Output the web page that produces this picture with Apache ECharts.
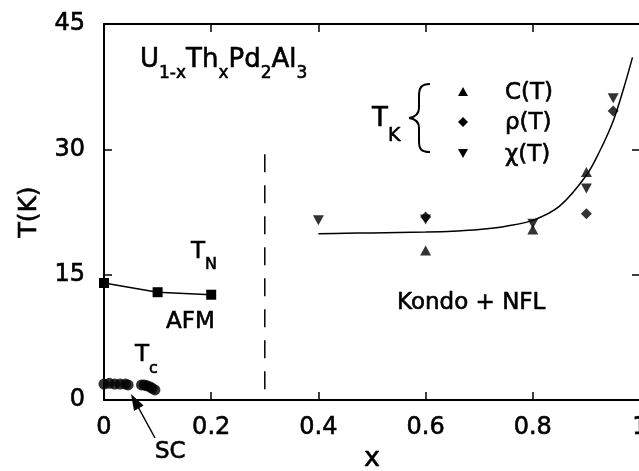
<!DOCTYPE html>
<html>
<head>
<meta charset="utf-8">
<script src="https://cdn.jsdelivr.net/npm/echarts@6/dist/echarts.min.js"></script>
<style>
  html, body { margin: 0; padding: 0; background: #fff; }
  #chart { width: 639px; height: 471px; }
</style>
</head>
<body>
<div id="chart"></div>
<script>
// Axis ticks
const xTickLabels = ['0', '0.2', '0.4', '0.6', '0.8', '1'];
const yTickLabels = ['0', '15', '30', '45'];

// Néel temperature T_N (AFM)
const tnX = [0, 0.1, 0.2];
const tnT = [14.0, 12.9, 12.6];

// Superconducting T_c
const tcX = [0, 0.01, 0.02, 0.03, 0.04, 0.045, 0.07, 0.075, 0.08, 0.085, 0.09, 0.095];
const tcT = [1.9, 2.0, 1.9, 1.9, 1.9, 1.8, 1.8, 1.8, 1.7, 1.6, 1.4, 1.2];

// Kondo temperature T_K from specific heat, resistivity and susceptibility
const cX = [0.6, 0.8, 0.9];
const cT = [17.9, 20.4, 27.3];
const rhoX = [0.6, 0.9, 0.95];
const rhoT = [21.9, 22.3, 34.6];
const chiX = [0.4, 0.6, 0.8, 0.9, 0.95];
const chiT = [21.5, 21.6, 21.1, 25.3, 36.1];

// Guide curve through T_K
const fitX = [0.40, 0.45, 0.50, 0.55, 0.60, 0.65, 0.70, 0.75, 0.80, 0.85, 0.90, 0.925, 0.95, 0.97, 0.986];
const fitT = [19.9, 19.95, 20.0, 20.05, 20.1, 20.2, 20.4, 20.8, 21.5, 23.2, 26.9, 29.8, 33.4, 37.4, 41.0];

// AFM / Kondo boundary (drawn top to bottom)
const boundaryX = [0.3, 0.3];
const boundaryT = [29.4, 0];

const FONT = 'DejaVu Sans';
const INK = 0.6; // stroke added to glyphs for a heavier print look
const pairs = (xs, ys) => xs.map((x, i) => [x, ys[i]]);

const axisCommon = {
  type: 'value',
  axisLine: { show: true, onZero: false, lineStyle: { color: '#000', width: 2 } },
  axisTick: { show: true, inside: true, length: 8, lineStyle: { color: '#000', width: 1.5 } },
  splitLine: { show: false }
};

const chart = echarts.init(document.getElementById('chart'), null, { renderer: 'canvas' });

// text with subscripts: main tokens centred, subscripts pushed to the line bottom
function subText(parts, mainSize, subSize, lineH) {
  const text = parts.map(p => (p[1] ? '{s|' : '{m|') + p[0] + '}').join('');
  return {
    text: text,
    rich: {
      m: { fontFamily: FONT, fontSize: mainSize, lineHeight: lineH, fill: '#000', stroke: '#000', lineWidth: INK, verticalAlign: 'middle' },
      s: { fontFamily: FONT, fontSize: subSize, lineHeight: subSize, fill: '#000', stroke: '#000', lineWidth: INK, verticalAlign: 'bottom' }
    },
    align: 'left',
    verticalAlign: 'middle'
  };
}

function textEl(x, y, style) {
  return { type: 'text', x: x, y: y, style: style, z: 100 };
}

function plainText(x, y, str, size) {
  return textEl(x, y, {
    text: str, fontFamily: FONT, fontSize: size, fill: '#000',
    stroke: '#000', lineWidth: INK, align: 'left', verticalAlign: 'middle'
  });
}

function tri(cx, cy, r, down) {
  const s = down ? -1 : 1;
  return {
    type: 'polygon', z: 100,
    shape: { points: [[cx, cy - s * r], [cx - r, cy + s * r * 0.8], [cx + r, cy + s * r * 0.8]] },
    style: { fill: '#000' }
  };
}

const strokeStyle = { stroke: '#000', fill: 'none', lineWidth: 2 };
function bez(p0, c1, c2, p1) {
  return {
    type: 'bezierCurve', z: 100,
    shape: { x1: p0[0], y1: p0[1], cpx1: c1[0], cpy1: c1[1], cpx2: c2[0], cpy2: c2[1], x2: p1[0], y2: p1[1] },
    style: strokeStyle
  };
}
function seg(p0, p1) {
  return { type: 'line', z: 100, shape: { x1: p0[0], y1: p0[1], x2: p1[0], y2: p1[1] }, style: strokeStyle };
}

const labelStyle = {
  fontFamily: FONT, fontSize: 24, color: '#000',
  textBorderColor: '#000', textBorderWidth: INK,
  showMinLabel: true, showMaxLabel: true
};

const option = {
  backgroundColor: '#fff',
  animation: false,
  grid: { left: 104, top: 24, width: 536, height: 376, containLabel: false, outerBoundsMode: 'none' },
  xAxis: [
    Object.assign({}, axisCommon, {
      min: 0, max: 1, interval: 0.2, position: 'bottom',
      name: 'x', nameLocation: 'middle', nameGap: 43,
      nameTextStyle: { fontFamily: FONT, fontSize: 27, color: '#000', textBorderColor: '#000', textBorderWidth: INK },
      axisLabel: Object.assign({}, labelStyle, {
        margin: 16,
        formatter: v => xTickLabels[Math.round(v / 0.2)]
      })
    }),
    Object.assign({}, axisCommon, {
      min: 0, max: 1, interval: 0.2, position: 'top',
      axisLabel: { show: false }
    })
  ],
  yAxis: [
    Object.assign({}, axisCommon, {
      min: 0, max: 45, interval: 15, position: 'left',
      name: 'T(K)', nameLocation: 'middle', nameGap: 62, nameRotate: 90,
      nameTextStyle: { fontFamily: FONT, fontSize: 25, color: '#000', textBorderColor: '#000', textBorderWidth: INK },
      axisLabel: Object.assign({}, labelStyle, {
        margin: 19,
        formatter: v => yTickLabels[Math.round(v / 15)]
      })
    }),
    Object.assign({}, axisCommon, {
      min: 0, max: 45, interval: 15, position: 'right',
      axisLabel: { show: false }
    })
  ],
  series: [
    {
      name: 'boundary', type: 'line', data: pairs(boundaryX, boundaryT),
      symbol: 'none', z: 2,
      lineStyle: { color: '#000', width: 1.5, type: [18, 13] }
    },
    {
      name: 'T_N', type: 'line', data: pairs(tnX, tnT),
      symbol: 'rect', symbolSize: 10, z: 3,
      itemStyle: { color: '#000' },
      lineStyle: { color: '#000', width: 1.5 }
    },
    {
      name: 'T_c', type: 'scatter', data: pairs(tcX, tcT),
      symbol: 'circle', symbolSize: 11, z: 3,
      itemStyle: { color: '#000' }
    },
    {
      name: 'fit', type: 'line', data: pairs(fitX, fitT),
      symbol: 'none', smooth: 0.35, z: 2,
      lineStyle: { color: '#000', width: 1.5 }
    },
    {
      name: 'C(T)', type: 'scatter', data: pairs(cX, cT),
      symbol: 'triangle', symbolSize: [11, 10], z: 4,
      itemStyle: { color: '#000' }
    },
    {
      name: 'rho(T)', type: 'scatter', data: pairs(rhoX, rhoT),
      symbol: 'diamond', symbolSize: 11, z: 4,
      itemStyle: { color: '#000' }
    },
    {
      name: 'chi(T)', type: 'scatter', data: pairs(chiX, chiT),
      symbol: 'triangle', symbolRotate: 180, symbolSize: [11, 10], z: 4,
      itemStyle: { color: '#000' }
    }
  ],
  graphic: [
    // compound formula
    textEl(140, 60, subText([['U'], ['1-x', 1], ['Th'], ['x', 1], ['Pd'], ['2', 1], ['Al'], ['3', 1]], 26, 17, 44)),
    // phase labels
    textEl(191, 252, subText([['T'], ['N', 1]], 23, 16, 42)),
    plainText(166, 322, 'AFM', 23),
    textEl(135, 355, subText([['T'], ['c', 1]], 23, 16, 44)),
    plainText(155, 452, 'SC', 23),
    plainText(397, 303, 'Kondo + NFL', 23),
    // arrow to the SC region
    { type: 'line', z: 100, shape: { x1: 155, y1: 438, x2: 137, y2: 405 }, style: { stroke: '#000', lineWidth: 1.5 } },
    { type: 'polygon', z: 100, shape: { points: [[131, 394], [143.5, 405.5], [134, 411]] }, style: { fill: '#000' } },
    // T_K key with brace
    textEl(372, 119, subText([['T'], ['K', 1]], 26, 19, 54)),
    bez([430, 84], [421, 84], [419, 88], [419, 96]),
    seg([419, 96], [419, 108]),
    bez([419, 108], [419, 114], [416, 117], [409, 118]),
    bez([409, 118], [416, 119], [419, 122], [419, 128]),
    seg([419, 128], [419, 141]),
    bez([419, 141], [419, 149], [421, 152], [430, 152]),
    tri(463, 92, 5, false),
    { type: 'polygon', z: 100, shape: { points: [[463, 117], [468, 122], [463, 127], [458, 122]] }, style: { fill: '#000' } },
    tri(463, 153, 5, true),
    plainText(505, 93, 'C(T)', 23),
    plainText(505, 123, 'ρ(T)', 23),
    plainText(505, 155, 'χ(T)', 23)
  ]
};

chart.setOption(option);
</script>
</body>
</html>
